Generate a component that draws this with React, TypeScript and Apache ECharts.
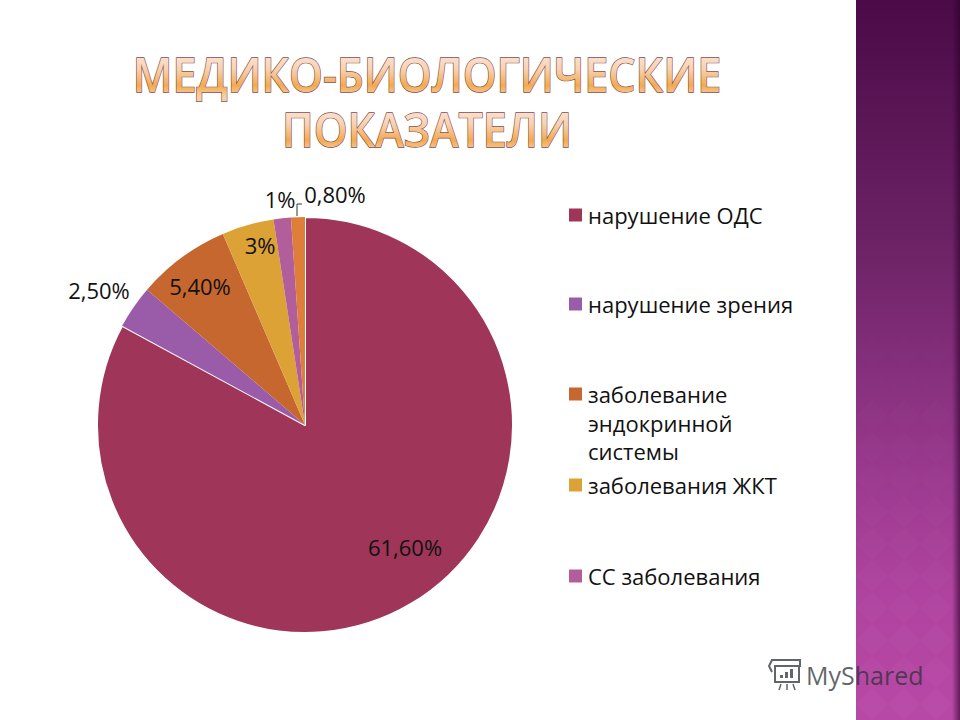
import React, { useEffect, useRef } from "react";
import * as echarts from "echarts";

const titleLines = ["МЕДИКО-БИОЛОГИЧЕСКИЕ", "ПОКАЗАТЕЛИ"];
const categories = [
  "нарушение ОДС",
  "нарушение зрения",
  "заболевание",
  "заболевания ЖКТ",
  "СС заболевания",
  "прочее",
];
const values = [61.6, 2.5, 5.4, 3, 1, 0.8];
const valueLabels = ["61,60%", "2,50%", "5,40%", "3%", "1%", "0,80%"];
const legendContinuation = ["эндокринной", "системы"];
const colors = ["#9F3558", "#9A5BA8", "#C5672F", "#DDA235", "#B25E9B", "#DE7E38"];
const watermark = "MyShared";

const FONT = "'Open Sans', sans-serif";
const labelAnchors = [
  [405, 547],
  [99, 290],
  [200, 286],
  [260, 245],
  [280, 199],
  [335, 194],
];
const legendTops = [204, 293, 383, 474, 565];

function bandDiamonds() {
  const out: any[] = [];
  const s = 32;
  for (let row = 0; row < 12; row++) {
    const cy = 352 + row * s;
    for (let col = 0; col < 3; col++) {
      const cx = 872 + col * s;
      const a = 0.006 + ((cy - 352) / 368) * 0.022;
      out.push({
        type: "polygon",
        silent: true,
        z: 2,
        shape: {
          points: [
            [cx, cy - s / 2],
            [cx + s / 2, cy],
            [cx, cy + s / 2],
            [cx - s / 2, cy],
          ],
        },
        style: { fill: `rgba(255,255,255,${a})` },
      });
    }
  }
  return out;
}

export default function App() {
  const ref = useRef<HTMLDivElement>(null);
  useEffect(() => {
    document.body.style.margin = "0";
    document.body.style.background = "#fff";
    const chart = echarts.init(ref.current!, undefined, { renderer: "svg" });
    const wmColor = "rgba(45,50,55,0.75)";

    // zrender text has no gradient fill, so the title's gradient is applied to its SVG text nodes.
    const paintTitle = () => {
      const svg = ref.current?.querySelector("svg");
      if (!svg) return;
      const ns = "http://www.w3.org/2000/svg";
      if (!svg.querySelector("#titleGradient")) {
        const g = document.createElementNS(ns, "linearGradient");
        g.setAttribute("id", "titleGradient");
        g.setAttribute("x1", "0");
        g.setAttribute("y1", "0");
        g.setAttribute("x2", "0");
        g.setAttribute("y2", "1");
        [
          ["0.18", "#FBE3D6"],
          ["0.42", "#F8D2B0"],
          ["0.68", "#F3A94F"],
          ["0.85", "#F8CFA0"],
        ].forEach(([o, c]) => {
          const st = document.createElementNS(ns, "stop");
          st.setAttribute("offset", o);
          st.setAttribute("stop-color", c);
          g.appendChild(st);
        });
        svg.appendChild(g);
      }
      svg.querySelectorAll("text").forEach((t) => {
        if (titleLines.includes(t.textContent || "")) {
          t.setAttribute("fill", "url(#titleGradient)");
        }
      });
    };
    chart.on("finished", paintTitle);

    chart.setOption({
      animation: false,
      backgroundColor: "#fff",
      legend: categories.slice(0, 5).map((name, i) => ({
        data: [name],
        left: 569,
        top: legendTops[i],
        padding: 0,
        icon: "rect",
        itemWidth: 13,
        itemHeight: 13,
        itemStyle: { borderWidth: 0 },
        selectedMode: false,
        textStyle: {
          fontFamily: FONT,
          fontSize: 22,
          color: "#111",
          padding: [0, 0, 0, 1],
        },
      })),
      series: [
        {
          type: "pie",
          center: [305, 425],
          radius: 208,
          startAngle: 90,
          clockwise: true,
          avoidLabelOverlap: false,
          label: {
            show: true,
            position: "outside",
            fontFamily: FONT,
            fontSize: 22,
            color: "#111",
            formatter: (p: any) => valueLabels[p.dataIndex],
          },
          labelLine: { show: false },
          labelLayout: (p: any) => ({
            x: labelAnchors[p.dataIndex][0],
            y: labelAnchors[p.dataIndex][1],
            align: "center",
            verticalAlign: "middle",
            ...(p.dataIndex === 5
              ? {
                  labelLinePoints: [
                    [297, 216],
                    [297, 204],
                    [302, 204],
                  ],
                }
              : {}),
          }),
          data: categories.map((name, i) => ({
            name,
            value: values[i],
            itemStyle: {
              color: colors[i],
              borderColor: "#fff",
              borderWidth: i === 0 ? 2 : 0,
            },
            labelLine:
              i === 5
                ? { show: true, showAbove: true, lineStyle: { color: "#333", width: 1 } }
                : { show: false },
          })),
        },
      ],
      graphic: [
        {
          type: "rect",
          silent: true,
          z: 1,
          shape: { x: 856, y: 0, width: 104, height: 720 },
          style: {
            fill: {
              type: "linear",
              x: 0,
              y: 0,
              x2: 0,
              y2: 1,
              colorStops: [
                { offset: 0, color: "#4B0A48" },
                { offset: 0.33, color: "#6B2264" },
                { offset: 0.67, color: "#9C3A90" },
                { offset: 0.83, color: "#B0439F" },
                { offset: 1, color: "#B848A5" },
              ],
            },
          },
        },
        ...bandDiamonds(),
        {
          type: "rect",
          silent: true,
          z: 3,
          shape: { x: 952, y: 0, width: 8, height: 720 },
          style: {
            fill: {
              type: "linear",
              x: 0,
              y: 0,
              x2: 1,
              y2: 0,
              colorStops: [
                { offset: 0, color: "rgba(40,0,40,0)" },
                { offset: 1, color: "rgba(40,0,40,0.6)" },
              ],
            },
          },
        },
        ...titleLines.map((t, i) => ({
          type: "text",
          silent: true,
          z: 5,
          x: 427,
          y: 74 + i * 55,
          scaleY: 1.08,
          style: {
            text: t,
            fill: "#F3B777",
            stroke: "#7B4B52",
            lineWidth: 1.2,
            font: `600 43px ${FONT}`,
            textAlign: "center",
            textVerticalAlign: "middle",
          },
        })),
        ...legendContinuation.map((t, i) => ({
          type: "text",
          silent: true,
          z: 5,
          x: 588,
          y: 423 + i * 28,
          style: {
            text: t,
            fill: "#111",
            font: `22px ${FONT}`,
            textVerticalAlign: "middle",
          },
        })),
        {
          type: "polyline",
          silent: true,
          z: 6,
          shape: { points: [[772, 672], [769, 666], [772, 660], [800, 660], [800, 666], [775, 666], [775, 682], [799, 682], [799, 666]] },
          style: { fill: "none", stroke: wmColor, lineWidth: 2 },
        },
        { type: "rect", silent: true, z: 6, shape: { x: 780, y: 675, width: 3, height: 3 }, style: { fill: wmColor } },
        { type: "rect", silent: true, z: 6, shape: { x: 785, y: 672, width: 3, height: 6 }, style: { fill: wmColor } },
        { type: "rect", silent: true, z: 6, shape: { x: 790, y: 669, width: 3, height: 9 }, style: { fill: wmColor } },
        { type: "line", silent: true, z: 6, shape: { x1: 781, y1: 684, x2: 779, y2: 690 }, style: { stroke: wmColor, lineWidth: 1.5 } },
        { type: "line", silent: true, z: 6, shape: { x1: 787, y1: 684, x2: 787, y2: 690 }, style: { stroke: wmColor, lineWidth: 1.5 } },
        { type: "line", silent: true, z: 6, shape: { x1: 793, y1: 684, x2: 795, y2: 690 }, style: { stroke: wmColor, lineWidth: 1.5 } },
        {
          type: "text",
          silent: true,
          z: 6,
          x: 806,
          y: 675,
          style: {
            text: watermark,
            fill: wmColor,
            font: `25px ${FONT}`,
            textVerticalAlign: "middle",
          },
        },
      ],
    });
    return () => chart.dispose();
  }, []);
  return <div ref={ref} style={{ position: "absolute", left: 0, top: 0, width: 960, height: 720 }} />;
}
